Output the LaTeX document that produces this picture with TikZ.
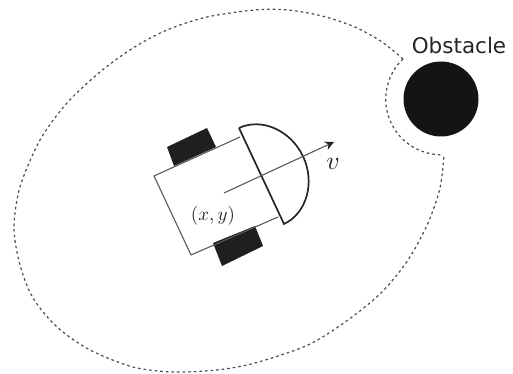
\documentclass[tikz,border=0pt]{standalone}
\usepackage{fontspec}
\usepackage{tikz}
\usetikzlibrary{arrows.meta,calc}
\newfontfamily\obsfont{DejaVu Sans}

\begin{document}
\begin{tikzpicture}[
  x=1pt,y=1pt,
  bodyline/.style={draw=black!65,line width=1.1pt},
  domeline/.style={draw=black!85,line width=1.7pt,line join=miter},
  wheel/.style={fill=black!88,draw=none},
  arr/.style={-{Stealth[length=9pt,width=9pt,color=black!85]},draw=black!65,line width=1.1pt},
  zone/.style={draw=black!70,line width=1.2pt,dash pattern=on 2.6pt off 3pt},
  lab/.style={text=black!85,inner sep=0pt,scale=1.9},
]
\useasboundingbox (0,0) rectangle (513,374);
% wheels
\fill[wheel] (167,227) -- (207,246) -- (216,227) -- (174,208) -- cycle;
\fill[wheel] (213,131) -- (255,148) -- (263,128) -- (222,108) -- cycle;
% body and dome
\coordinate (bl) at (154,198);
\coordinate (br) at (191,119);
\coordinate (fa) at (239,246);
\coordinate (fb) at (284,150);
\draw[bodyline] (240,237) -- (bl) -- (br) -- (278,157);
\draw[domeline] (fa) -- (fb) .. controls (306.6,160.6) and (315.4,191.3) .. (303.1,217.5)
  .. controls (290.8,243.7) and (261.6,256.6) .. (fa);
% heading
\coordinate (cen) at (224,181);
\coordinate (tip) at (334,232);
\draw[arr] (cen) -- (tip);
\node[lab] (pos) at (213,158) {$(x,y)$};
\node[lab,scale=1.35] (vel) at (333,210) {$v$};
% obstacle
\node[circle,fill=black!92,minimum size=75pt,inner sep=0pt] (obs) at (441,275) {};
\node[text=black!85,inner sep=0pt,font=\obsfont\fontsize{21.5}{21.5}\selectfont] (obsname) at (459,329) {Obstacle};
% safety zone
\coordinate (cuspa) at (403,315);
\coordinate (cuspb) at (444,218);
\draw[zone] plot[smooth] coordinates {(cuspa) (382,332) (355,347) (322,358) (288,364) (255,364) (207,357)
  (167,344) (133,326) (100,302) (67,271) (40,234) (20,187) (14,146) (20,109) (33,76) (57,47) (90,24)
  (133,7) (173,2) (217,4) (255,11) (308,29) (348,54) (382,82) (408,114) (428,151) (440,186) (cuspb)};
\draw[zone] (cuspa) arc[start angle=133.5,end angle=272,radius=55.5pt];
\end{tikzpicture}
\end{document}
